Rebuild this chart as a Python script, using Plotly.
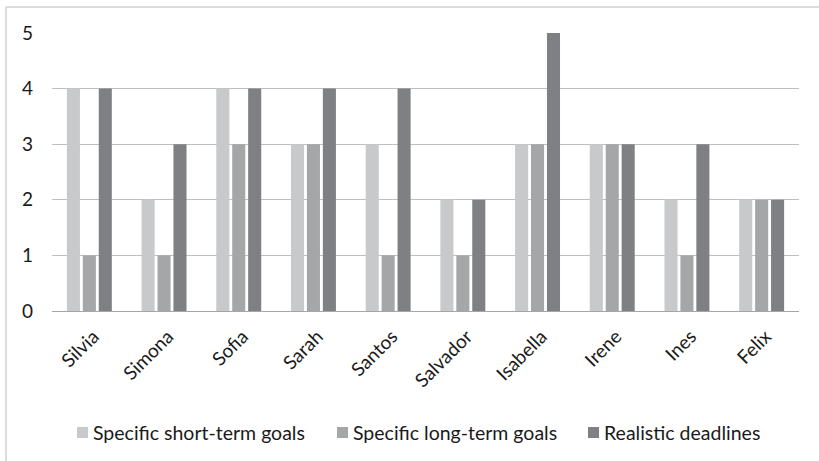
import plotly.graph_objects as go

names = ["Silvia", "Simona", "Sofia", "Sarah", "Santos", "Salvador",
         "Isabella", "Irene", "Ines", "Felix"]
short_term = [4, 2, 4, 3, 3, 2, 3, 3, 2, 2]
long_term = [1, 1, 3, 3, 1, 1, 3, 3, 1, 2]
deadlines = [4, 3, 4, 4, 4, 2, 5, 3, 3, 2]

series = [
    ("Specific short-term goals", short_term, "#c8c9cb"),
    ("Specific long-term goals", long_term, "#a5a6a8"),
    ("Realistic deadlines", deadlines, "#7f8083"),
]

font = "Lato, 'Open Sans', sans-serif"
W, H = 819, 461
L, R, T, B = 52, 20, 33, 150
pw, ph = W - L - R, H - T - B


def px(x):
    return (x - L) / pw


def py(y):
    return (H - B - y) / ph


fig = go.Figure()
for label, vals, color in series:
    fig.add_trace(go.Bar(x=names, y=vals, name=label, marker_color=color,
                         marker_line_width=0, showlegend=False))

# chart-area frame (top and left edges)
shapes = [
    dict(type="line", xref="paper", yref="paper",
         x0=px(6), x1=1.1, y0=py(7), y1=py(7),
         line=dict(color="#d0d0d0", width=1.5)),
    dict(type="line", xref="paper", yref="paper",
         x0=px(6), x1=px(6), y0=py(7), y1=-0.6,
         line=dict(color="#d0d0d0", width=1.5)),
]
# legend drawn as swatches + text below the plot
annotations = []
legend_x = [77, 337, 588]
for (label, _, color), lx in zip(series, legend_x):
    shapes.append(dict(type="rect", xref="paper", yref="paper",
                       x0=px(lx), x1=px(lx + 11), y0=py(438), y1=py(427),
                       fillcolor=color, line=dict(width=0)))
    annotations.append(dict(xref="paper", yref="paper", x=px(lx + 14),
                            y=py(432), xanchor="left", yanchor="middle",
                            text=label, showarrow=False,
                            font=dict(size=19.5, color="#1a1a1a")))

fig.update_layout(
    width=W, height=H,
    margin=dict(l=L, r=R, t=T, b=B),
    paper_bgcolor="white", plot_bgcolor="white",
    barmode="group", bargap=0.36, bargroupgap=0.18,
    font=dict(family=font, size=18, color="#1a1a1a"),
    showlegend=False,
    xaxis=dict(showgrid=False, showline=True, linecolor="#a6a6a6",
               linewidth=1, tickangle=-45, ticks="",
               ticklabelstandoff=6, ticklabelshift=4,
               tickfont=dict(size=19)),
    yaxis=dict(range=[0, 5], dtick=1, showgrid=True, gridcolor="#bfbfbf",
               gridwidth=1, zeroline=False, showline=False, ticks="",
               ticklabelstandoff=18, tickfont=dict(size=19)),
    shapes=shapes,
    annotations=annotations,
)

fig.write_html("out.html")
